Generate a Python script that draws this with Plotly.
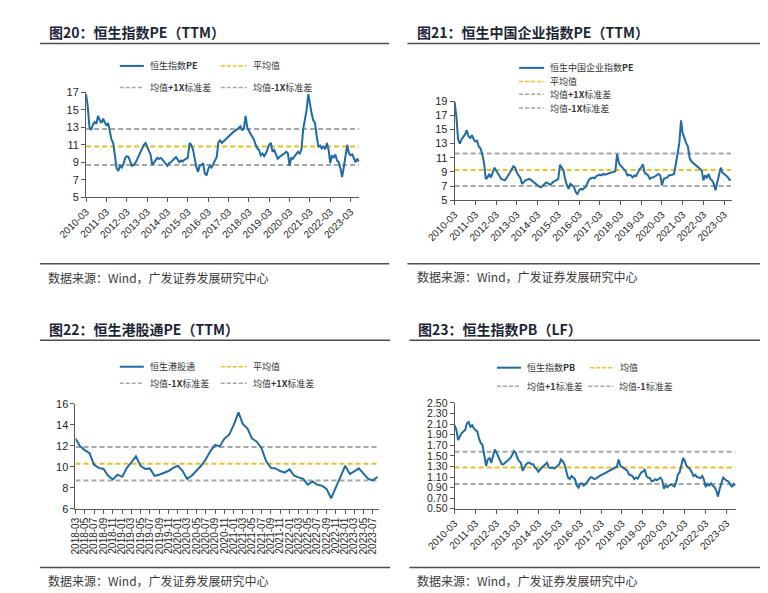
import pandas as pd
import plotly.graph_objects as go

W, H = 768, 593

# ---------------- data ----------------
dates_hsi = pd.date_range("2010-03-01", "2023-08-01", freq="MS").strftime("%Y-%m-%d").tolist()
dates_hscei = pd.date_range("2010-03-01", "2023-07-01", freq="MS").strftime("%Y-%m-%d").tolist()
dates_ggt = pd.date_range("2018-03-01", "2023-08-01", freq="MS").strftime("%Y-%m-%d").tolist()
dates_pb = pd.date_range("2010-03-01", "2023-08-01", freq="MS").strftime("%Y-%m-%d").tolist()

hsi_pe = [
    16.8, 15.3, 13.0, 12.7, 13.3, 13.6, 13.4, 14.3, 13.8, 13.5,
    14.0, 13.6, 13.2, 13.5, 12.3, 11.6, 11.2, 9.6, 8.3, 8.0, 8.6, 8.4,
    8.8, 9.5, 9.7, 9.6, 9.0, 8.6, 8.7, 8.9, 9.3, 9.7, 10.1, 10.5,
    11.0, 11.2, 10.8, 10.2, 9.9, 8.7, 9.0, 9.3, 9.5, 9.4, 9.5, 9.3,
    9.0, 8.8, 8.6, 8.9, 9.0, 9.2, 9.5, 9.6, 9.3, 9.0, 9.2, 9.1,
    9.3, 9.4, 9.5, 11.2, 11.0, 10.5, 9.5, 8.5, 7.9, 8.6, 8.7, 8.9,
    7.7, 7.5, 8.2, 8.6, 8.4, 8.8, 9.2, 9.6, 11.3, 11.5, 11.2, 11.4,
    11.6, 11.8, 12.0, 12.2, 12.4, 12.5, 12.6, 12.8, 12.9, 13.1, 12.7, 12.8,
    14.3, 13.0, 12.6, 12.2, 12.0, 11.6, 11.0, 10.6, 10.4, 9.8, 10.0, 9.7,
    10.0, 10.6, 11.0, 11.2, 10.2, 10.4, 10.0, 9.4, 9.6, 9.8, 9.9, 10.0,
    10.2, 10.0, 8.6, 9.5, 9.4, 9.7, 10.0, 10.2, 10.0, 10.5, 12.8, 14.0,
    15.0, 16.8, 15.5, 14.6, 13.8, 13.5, 12.0, 10.8, 10.9, 10.6, 10.8, 10.5,
    11.2, 10.4, 8.9, 9.8, 9.5, 9.9, 9.2, 9.0, 8.3, 7.3, 8.5, 9.6,
    11.0, 10.0, 9.8, 9.9, 9.4, 9.0, 9.4, 9.1,
]
hsi_pe_ref = {"mean": 10.8, "plus": 12.8, "minus": 8.7}

hscei_pe = [
    18.9, 16.8, 13.6, 13.0, 13.6, 13.9, 14.3, 14.9, 14.0, 13.8,
    14.2, 13.6, 13.3, 13.4, 12.6, 12.3, 11.5, 10.3, 8.0, 8.2, 8.7, 8.2,
    8.8, 9.6, 9.2, 8.8, 8.5, 8.0, 7.9, 7.8, 8.1, 8.5, 8.8, 9.2,
    9.8, 9.6, 8.9, 8.5, 8.2, 7.3, 7.6, 7.8, 7.9, 8.0, 7.9, 7.7,
    7.4, 7.2, 7.1, 6.9, 6.8, 7.0, 7.3, 7.5, 7.4, 7.2, 7.3, 7.6,
    7.7, 7.9, 8.0, 10.0, 9.6, 9.2, 8.0, 7.1, 6.6, 7.3, 7.1, 6.9,
    6.2, 5.8, 6.4, 6.6, 6.5, 6.7, 6.9, 7.5, 8.0, 8.1, 8.2, 8.1,
    8.4, 8.5, 8.6, 8.5, 8.7, 8.6, 8.7, 8.8, 8.9, 8.9, 9.0, 9.1,
    11.5, 10.3, 9.9, 9.6, 9.3, 9.1, 8.5, 8.6, 8.5, 8.2, 8.5, 8.4,
    8.9, 9.4, 9.6, 10.1, 8.9, 8.7, 8.5, 8.0, 8.2, 8.2, 8.4, 8.5,
    8.7, 8.5, 7.1, 8.0, 8.1, 8.2, 8.5, 8.5, 8.6, 8.7, 9.9, 11.5,
    13.1, 16.3, 14.5, 13.6, 13.1, 12.6, 11.0, 10.5, 10.3, 10.1, 9.9, 9.6,
    9.4, 9.2, 7.8, 8.5, 8.2, 8.7, 8.0, 7.8, 7.3, 6.4, 7.5, 8.5,
    9.6, 8.9, 8.7, 8.5, 8.3, 7.9, 7.9,
]
hscei_pe_ref = {"mean": 9.25, "plus": 11.6, "minus": 7.0}

ggt_pe = [
    12.7, 11.95, 11.6, 11.3, 10.2, 9.9, 9.8, 9.15, 8.8, 9.25,
    9.05, 9.9, 10.4, 11.0, 10.1, 9.8, 9.85, 9.15, 9.25, 9.45, 9.6, 9.9,
    10.1, 9.6, 8.85, 9.15, 9.6, 10.1, 10.7, 11.5, 12.1, 11.95, 12.7, 13.05,
    14.0, 15.2, 14.1, 13.65, 12.7, 12.4, 11.8, 10.55, 9.9, 9.85, 9.6, 9.45,
    9.75, 9.15, 9.0, 8.85, 8.3, 8.6, 8.3, 8.2, 7.9, 7.0, 8.05, 9.0,
    10.1, 9.3, 9.6, 9.85, 9.35, 8.85, 8.7, 9.05,
]
ggt_pe_ref = {"mean": 10.3, "plus": 11.9, "minus": 8.7}

hsi_pb = [
    2.08, 1.99, 1.80, 1.86, 1.93, 1.96, 1.99, 2.11, 2.14, 2.05,
    2.08, 2.02, 1.99, 1.96, 1.83, 1.74, 1.71, 1.49, 1.31, 1.43, 1.46, 1.37,
    1.52, 1.62, 1.56, 1.49, 1.40, 1.34, 1.34, 1.37, 1.40, 1.43, 1.46, 1.52,
    1.59, 1.56, 1.46, 1.40, 1.37, 1.22, 1.28, 1.34, 1.37, 1.37, 1.34, 1.34,
    1.28, 1.25, 1.20, 1.25, 1.28, 1.31, 1.34, 1.37, 1.28, 1.27, 1.28, 1.26,
    1.28, 1.31, 1.34, 1.43, 1.40, 1.34, 1.19, 1.09, 1.06, 1.12, 1.09, 1.06,
    0.94, 0.90, 0.97, 0.98, 0.94, 0.97, 1.00, 1.06, 1.10, 1.09, 1.06, 1.07,
    1.10, 1.12, 1.14, 1.15, 1.17, 1.19, 1.20, 1.22, 1.25, 1.27, 1.28, 1.29,
    1.43, 1.31, 1.29, 1.27, 1.25, 1.22, 1.15, 1.14, 1.12, 1.06, 1.09, 1.07,
    1.14, 1.19, 1.20, 1.25, 1.12, 1.09, 1.08, 1.02, 1.03, 1.06, 1.04, 1.06,
    1.09, 1.04, 0.88, 0.94, 0.91, 0.94, 0.96, 0.94, 0.92, 1.00, 1.15, 1.19,
    1.31, 1.46, 1.40, 1.31, 1.28, 1.25, 1.19, 1.12, 1.14, 1.10, 1.09, 1.08,
    1.12, 1.04, 0.91, 0.97, 0.94, 0.98, 0.94, 0.91, 0.85, 0.73, 0.88, 1.00,
    1.09, 1.06, 1.03, 1.02, 0.97, 0.91, 0.97, 0.94,
]
hsi_pb_ref = {"mean": 1.28, "plus": 1.58, "minus": 0.97}

titles = ["图20：恒生指数PE（TTM）", "图21：恒生中国企业指数PE（TTM）",
          "图22：恒生港股通PE（TTM）", "图23：恒生指数PB（LF）"]
source_text = "数据来源：Wind，广发证券发展研究中心"

assert len(hsi_pe) == len(dates_hsi)
assert len(hscei_pe) == len(dates_hscei)
assert len(ggt_pe) == len(dates_ggt)
assert len(hsi_pb) == len(dates_pb)

# ---------------- styles ----------------
BLUE = "#1F6BA5"
GOLD = "#F2BE22"
GRAY = "#A6A6A6"
AXIS = "#595959"
TXT = "#262626"
TITLE_C = "#1C2536"
CJK = "Noto Sans CJK SC"
LAT = "Liberation Sans, Arial"
DASH = "5px,3px"


def fx(px):
    return px / W


def fy(py):
    return 1 - py / H


fig = go.Figure()

panels = [
    dict(d=dates_hsi, v=hsi_pe, ref=hsi_pe_ref, xa="x", ya="y",
         xdom=(51, 335), ydom=(80, 187), yr=[5, 17], dt=2,
         xr=["2010-03-01", "2023-08-06"], tick0="2010-03-01", dtick="M12", angle=-45, fmt=None),
    dict(d=dates_hscei, v=hscei_pe, ref=hscei_pe_ref, xa="x2", ya="y2",
         xdom=(434, 722), ydom=(89, 190), yr=[5, 19], dt=2,
         xr=["2010-03-01", "2023-07-14"], tick0="2010-03-01", dtick="M12", angle=-45, fmt=None),
    dict(d=dates_ggt, v=ggt_pe, ref=ggt_pe_ref, xa="x3", ya="y3",
         xdom=(40, 355), ydom=(398, 505), yr=[6, 16], dt=2,
         xr=["2018-03-01", "2023-08-08"], tick0="2018-03-01", dtick="M2", angle=-90, fmt=None),
    dict(d=dates_pb, v=hsi_pb, ref=hsi_pb_ref, xa="x4", ya="y4",
         xdom=(434, 726), ydom=(397, 505), yr=[0.5, 2.5], dt=0.2,
         xr=["2010-03-01", "2023-08-05"], tick0="2010-03-01", dtick="M12", angle=-45, fmt=".2f"),
]

layout_axes = {}
for i, p in enumerate(panels):
    d, v, ref = p["d"], p["v"], p["ref"]
    ends = [d[0], d[-1]]
    for key, col in (("plus", GRAY), ("minus", GRAY), ("mean", GOLD)):
        fig.add_trace(go.Scatter(x=ends, y=[ref[key], ref[key]], mode="lines",
                                 line=dict(color=col, width=2, dash=DASH),
                                 xaxis=p["xa"], yaxis=p["ya"], showlegend=False, hoverinfo="skip"))
    fig.add_trace(go.Scatter(x=d, y=v, mode="lines", line=dict(color=BLUE, width=2),
                             xaxis=p["xa"], yaxis=p["ya"], showlegend=False))
    sx = "" if i == 0 else str(i + 1)
    layout_axes["xaxis" + sx] = dict(
        domain=[fx(p["xdom"][0]), fx(p["xdom"][1])], anchor=p["ya"], type="date",
        range=p["xr"], tick0=p["tick0"], dtick=p["dtick"], tickformat="%Y-%m",
        tickangle=p["angle"], showline=True, linecolor=AXIS, linewidth=1,
        ticks="outside", ticklen=4, tickcolor=AXIS, showgrid=False, zeroline=False,
        tickfont=dict(family=LAT, size=10, color=TXT))
    ya = dict(
        domain=[fy(p["ydom"][1]), fy(p["ydom"][0])], anchor=p["xa"], range=p["yr"],
        dtick=p["dt"], tick0=p["yr"][0], showline=True, linecolor=AXIS, linewidth=1,
        ticks="outside", ticklen=4, tickcolor=AXIS, showgrid=False, zeroline=False,
        tickfont=dict(family=LAT, size=11, color=TXT))
    if p["fmt"]:
        ya["tickformat"] = p["fmt"]
        ya["tickfont"] = dict(family=LAT, size=10.5, color=TXT)
    layout_axes["yaxis" + sx] = ya

shapes = []
annotations = []


def hline(x0, x1, y, color="#4D4D4D", width=1.5, dash=None):
    ln = dict(color=color, width=width)
    if dash:
        ln["dash"] = dash
    shapes.append(dict(type="line", xref="paper", yref="paper",
                       x0=fx(x0), x1=fx(x1), y0=fy(y), y1=fy(y), line=ln))


def text(x, y, s, size=10, color=TXT, bold=False, family=CJK):
    if bold:
        s = "<b>" + s + "</b>"
    annotations.append(dict(x=fx(x), y=fy(y), xref="paper", yref="paper", text=s,
                            showarrow=False, xanchor="left", yanchor="middle",
                            borderpad=0,
                            font=dict(family=family, size=size, color=color)))


def legend_item(x0, x1, y, kind, label):
    if kind == "main":
        hline(x0, x1, y, color=BLUE, width=2)
    elif kind == "mean":
        hline(x0, x1, y, color=GOLD, width=1.5, dash="4px,2px")
    else:
        hline(x0, x1, y, color=GRAY, width=1.5, dash="4px,2px")
    text(x1 + 5, y, label, size=9, color="#333333")


# titles, rules, sources
for (tx, ty), t in zip([(11, 18), (394, 18), (11, 321), (395, 322)], titles):
    text(tx, ty, t, size=14, color=TITLE_C, bold=True)
hline(3, 366, 30)
hline(385, 755, 30)
hline(3, 367, 333)
hline(387, 754, 333)
hline(3, 366, 255)
hline(385, 755, 255)
hline(3, 367, 565)
hline(387, 754, 565)
for sx_, sy_ in [(10, 269), (394, 268), (10, 578), (394, 578)]:
    text(sx_, sy_, source_text, size=12, color="#3A3A3A")

# legends
legend_item(86, 111, 53, "main", "恒生指数<b>PE</b>")
legend_item(191, 218, 53, "mean", "平均值")
legend_item(86, 111, 75, "sd", "均值<b>+1X</b>标准差")
legend_item(191, 218, 75, "sd", "均值<b>-1X</b>标准差")

legend_item(501, 527, 55, "main", "恒生中国企业指数<b>PE</b>")
legend_item(501, 527, 69, "mean", "平均值")
legend_item(501, 527, 82, "sd", "均值<b>+1X</b>标准差")
legend_item(501, 527, 96, "sd", "均值<b>-1X</b>标准差")

legend_item(86, 111, 360, "main", "恒生港股通")
legend_item(191, 218, 360, "mean", "平均值")
legend_item(86, 111, 377, "sd", "均值<b>-1X</b>标准差")
legend_item(191, 218, 377, "sd", "均值<b>+1X</b>标准差")

legend_item(478, 503, 361, "main", "恒生指数<b>PB</b>")
legend_item(575, 600, 361, "mean", "均值")
legend_item(478, 503, 380, "sd", "均值<b>+1</b>标准差")
legend_item(573, 599, 380, "sd", "均值<b>-1</b>标准差")

fig.update_layout(
    width=W, height=H, margin=dict(l=0, r=0, t=0, b=0),
    paper_bgcolor="white", plot_bgcolor="white", showlegend=False,
    shapes=shapes, annotations=annotations, **layout_axes)

fig.write_html("out.html")
